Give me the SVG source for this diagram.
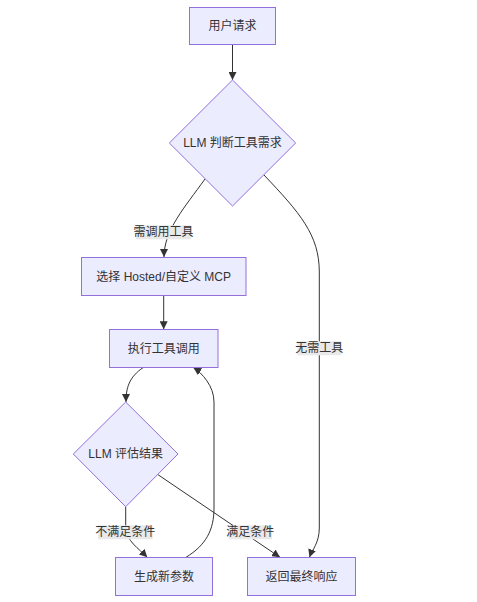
<svg xmlns="http://www.w3.org/2000/svg" width="477" height="602" viewBox="0 0 477 602">
<style>
  .node rect, .node polygon { fill: #ECECFF; stroke: #9370DB; stroke-width: 1; }
  text { font-family: "Trebuchet MS", "Liberation Sans", "Noto Sans CJK SC", sans-serif; font-size: 12px; fill: #333333; text-anchor: middle; dominant-baseline: central; }
  .edge { fill: none; stroke: #333333; stroke-width: 1; marker-end: url(#arrow); }
  .lbl rect { fill: #e9e9e9; stroke: none; }
</style>
<defs>
  <marker id="arrow" viewBox="0 0 10 10" refX="10" refY="5" markerWidth="8" markerHeight="8" markerUnits="userSpaceOnUse" orient="auto">
    <path d="M0,0 L10,5 L0,10 z" fill="#333333"/>
  </marker>
</defs>
<rect width="477" height="602" fill="#ffffff"/>
<g id="connectors">
  <path class="edge" d="M232.5,44.7 L232.5,80"/>
  <path class="edge" d="M205,179 C185,207 164,230 164,257"/>
  <path class="edge" d="M264,175 C300,213 319.3,235 319.3,272 L319.3,528 C319.3,543 312,550 309.5,557.3"/>
  <path class="edge" d="M163.7,295.5 L163.7,329.3"/>
  <path class="edge" d="M143.3,367.5 C129,377 126,388 126,402"/>
  <path class="edge" d="M125.7,506.7 L125.7,528 C125.7,540 139,549 147.3,557.3"/>
  <path class="edge" d="M186,557.3 C206,545 214,530 214,508 L214,402 C214,386 202,373 193.3,367.5"/>
  <path class="edge" d="M158,474.7 L280,557.3"/>
</g>
<g id="edge-labels">
  <g class="lbl" id="label-need-tool"><rect x="136" y="225.3" width="55.3" height="14"/><text x="163.6" y="232.3">需调用工具</text></g>
  <g class="lbl" id="label-no-tool"><rect x="297.3" y="341.3" width="44" height="14"/><text x="319.3" y="348.3">无需工具</text></g>
  <g class="lbl" id="label-unsat"><rect x="98" y="525.3" width="54.7" height="14"/><text x="125.3" y="532.3">不满足条件</text></g>
  <g class="lbl" id="label-sat"><rect x="228.7" y="525.3" width="43.3" height="14"/><text x="250.3" y="532.3">满足条件</text></g>
</g>
<g class="node" id="user-request"><rect x="189.5" y="7.5" width="86" height="37"/><text x="232.5" y="26">用户请求</text></g>
<g class="node" id="llm-judge"><polygon points="232.5,80 295.7,143 232.5,206 169.3,143"/><text x="232.5" y="143">LLM 判断工具需求</text></g>
<g class="node" id="select-mcp"><rect x="81.5" y="257.5" width="164.5" height="38"/><text x="163.7" y="276.5">选择 Hosted/自定义 MCP</text></g>
<g class="node" id="exec-tool"><rect x="109.5" y="329.5" width="108.5" height="38"/><text x="163.7" y="348.5">执行工具调用</text></g>
<g class="node" id="llm-eval"><polygon points="125.7,402 178,454 125.7,506.7 73.3,454"/><text x="125.7" y="454">LLM 评估结果</text></g>
<g class="node" id="gen-params"><rect x="115.5" y="557.5" width="97" height="38"/><text x="164" y="576.5">生成新参数</text></g>
<g class="node" id="final-response"><rect x="247.5" y="557.5" width="108" height="38"/><text x="301.5" y="576.5">返回最终响应</text></g>
</svg>
